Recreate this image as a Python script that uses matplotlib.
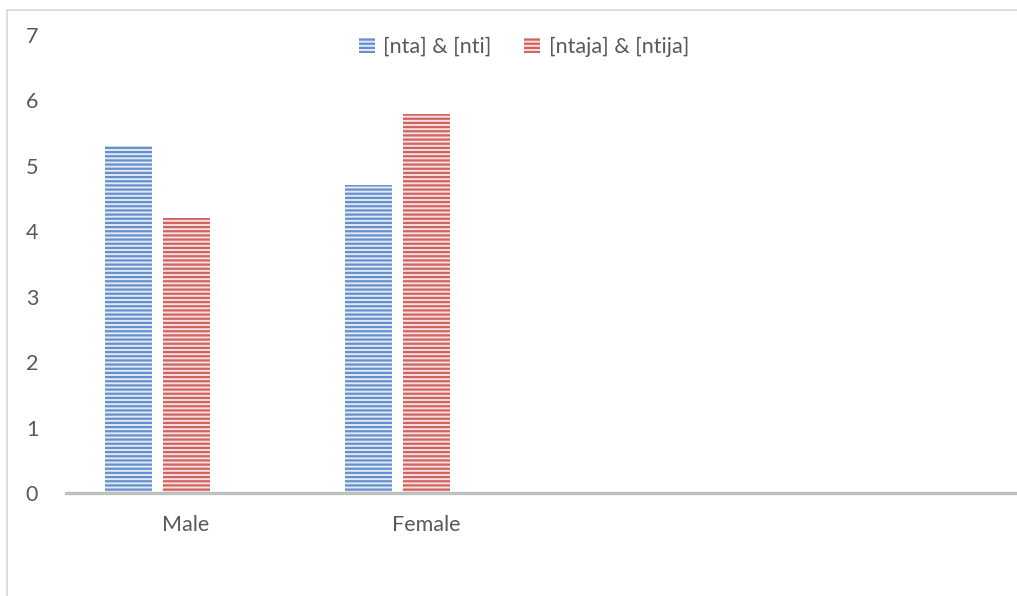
import matplotlib
matplotlib.use("Agg")
import matplotlib.pyplot as plt
from matplotlib.lines import Line2D
from matplotlib.patches import Patch
import numpy as np

categories = ["Male", "Female", "", ""]
series_names = ["[nta] & [nti]", "[ntaja] & [ntija]"]
nta_nti = [5.3, 4.7]
ntaja_ntija = [4.2, 5.8]
y_ticks = [0, 1, 2, 3, 4, 5, 6, 7]

plt.rcParams["font.family"] = ["Lato", "DejaVu Sans"]
plt.rcParams["hatch.linewidth"] = 1.6

W, H = 1017, 596
fig = plt.figure(figsize=(W / 100, H / 100), dpi=100)

# chart area border (left and top edges visible)
fig.add_artist(Line2D([7 / W, 7 / W], [0, 1 - 10 / H], transform=fig.transFigure,
                      color="#d9d9d9", lw=1.2))
fig.add_artist(Line2D([7 / W, 1.0], [1 - 10 / H, 1 - 10 / H], transform=fig.transFigure,
                      color="#d9d9d9", lw=1.2))

left, right = 66 / W, 1026 / W
bottom, top = (H - 493) / H, (H - 35) / H
ax = fig.add_axes([left, bottom, right - left, top - bottom])

x = np.arange(len(categories))
slot = 58 / 240
width = 47 / 240

blue_edge, blue_face = "#6690cc", "#e2eaf6"
red_edge, red_face = "#d06462", "#f7e0df"

ax.bar(x[:2] - slot, nta_nti, width, facecolor=blue_face, edgecolor=blue_edge,
       hatch="----", linewidth=0)
ax.bar(x[:2], ntaja_ntija, width, facecolor=red_face, edgecolor=red_edge,
       hatch="----", linewidth=0)

ax.set_xlim(-0.5, len(categories) - 0.5)
ax.set_ylim(0, 7)
ax.set_yticks(y_ticks)
ax.set_xticks(x)
ax.set_xticklabels(categories)

for s in ["top", "right", "left"]:
    ax.spines[s].set_visible(False)
ax.spines["bottom"].set_color("#bfbfbf")
ax.spines["bottom"].set_linewidth(2.4)

ax.tick_params(axis="both", length=0, labelsize=15.5, colors="#595959")
ax.tick_params(axis="x", pad=16)
ax.tick_params(axis="y", pad=20)

handles = [Patch(facecolor=blue_face, edgecolor=blue_edge, hatch="----", linewidth=0),
           Patch(facecolor=red_face, edgecolor=red_edge, hatch="----", linewidth=0)]
fig.legend(handles, series_names, loc="center", bbox_to_anchor=(524 / W, 1 - 47 / H),
           ncol=2, frameon=False, fontsize=15.5, labelcolor="#595959",
           handlelength=0.75, handleheight=0.75, handletextpad=0.4, columnspacing=1.5)

fig.savefig("out.png", dpi=100)
